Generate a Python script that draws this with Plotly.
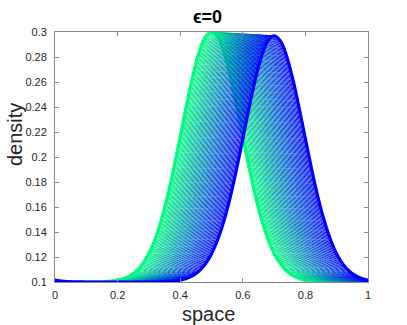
import numpy as np
import plotly.graph_objects as go

# bump profile of the first snapshot, as offset from its peak
offset = [-0.50, -0.48, -0.46, -0.44, -0.42, -0.40, -0.38, -0.36, -0.34, -0.32,
          -0.30, -0.28, -0.26, -0.24, -0.22, -0.20, -0.18, -0.16, -0.14, -0.12,
          -0.10, -0.08, -0.06, -0.04, -0.02, 0.00, 0.02, 0.04, 0.06, 0.08,
          0.10, 0.12, 0.14, 0.16, 0.18, 0.20, 0.22, 0.24, 0.26, 0.28,
          0.30, 0.32, 0.34, 0.36, 0.38, 0.40, 0.42, 0.44, 0.46, 0.48, 0.50]
shape = [0.1000, 0.1000, 0.1000, 0.1000, 0.1000, 0.1000, 0.1001, 0.1002, 0.1004, 0.1008,
         0.1015, 0.1028, 0.1051, 0.1088, 0.1145, 0.1228, 0.1345, 0.1499, 0.1690, 0.1916,
         0.2163, 0.2413, 0.2645, 0.2834, 0.2958, 0.3000, 0.2958, 0.2834, 0.2645, 0.2413,
         0.2163, 0.1916, 0.1690, 0.1499, 0.1345, 0.1228, 0.1145, 0.1088, 0.1051, 0.1028,
         0.1015, 0.1008, 0.1004, 0.1002, 0.1001, 0.1000, 0.1000, 0.1000, 0.1000, 0.1000, 0.1000]

# peak position and height of each snapshot
peak_pos = [0.500, 0.504, 0.508, 0.512, 0.516, 0.520, 0.524, 0.528, 0.532, 0.536,
            0.540, 0.544, 0.548, 0.552, 0.556, 0.560, 0.564, 0.568, 0.572, 0.576,
            0.580, 0.584, 0.588, 0.592, 0.596, 0.600, 0.604, 0.608, 0.612, 0.616,
            0.620, 0.624, 0.628, 0.632, 0.636, 0.640, 0.644, 0.648, 0.652, 0.656,
            0.660, 0.664, 0.668, 0.672, 0.676, 0.680, 0.684, 0.688, 0.692, 0.696, 0.700]
peak_height = [0.3000, 0.2999, 0.2999, 0.2998, 0.2998, 0.2997, 0.2996, 0.2996, 0.2995, 0.2995,
               0.2994, 0.2993, 0.2993, 0.2992, 0.2992, 0.2991, 0.2990, 0.2990, 0.2989, 0.2989,
               0.2988, 0.2987, 0.2987, 0.2986, 0.2986, 0.2985, 0.2984, 0.2984, 0.2983, 0.2983,
               0.2982, 0.2981, 0.2981, 0.2980, 0.2980, 0.2979, 0.2978, 0.2978, 0.2977, 0.2977,
               0.2976, 0.2975, 0.2975, 0.2974, 0.2974, 0.2973, 0.2972, 0.2972, 0.2971, 0.2971, 0.2970]

x_ticks = [0, 0.2, 0.4, 0.6, 0.8, 1]
x_labels = ["0", "0.2", "0.4", "0.6", "0.8", "1"]
y_ticks = [0.1, 0.12, 0.14, 0.16, 0.18, 0.2, 0.22, 0.24, 0.26, 0.28, 0.3]
y_labels = ["0.1", "0.12", "0.14", "0.16", "0.18", "0.2", "0.22", "0.24", "0.26", "0.28", "0.3"]

BASE = 0.1
dx = np.array(offset)
rise = np.array(shape) - BASE

fig = go.Figure()
n = len(peak_pos)
for i, (pos, h) in enumerate(zip(peak_pos, peak_height)):
    # periodic domain: wrap the bump back into [0, 1]
    x = np.mod(pos + dx, 1.0)
    y = BASE + rise * (h - BASE) / (shape[25] - BASE)
    order = np.argsort(x)
    x, y = x[order], y[order]
    x = np.concatenate([[x[-1] - 1], x, [x[0] + 1]])
    y = np.concatenate([[y[-1]], y, [y[0]]])
    t = i / (n - 1)
    color = f"rgb(0,{round(255 * (1 - t))},{round(128 + 127 * t)})"
    width = 3.2 if i in (0, n - 1) else 1
    fig.add_scatter(x=x, y=y, mode="lines", line=dict(color=color, width=width, shape="spline"),
                    showlegend=False, hoverinfo="skip")

axis = dict(showline=True, linecolor="#8a8a8a", linewidth=1, mirror="ticks", ticks="inside",
            ticklen=4, tickcolor="#8a8a8a", showgrid=False, zeroline=False,
            tickfont=dict(family="Liberation Sans, Arial", size=11, color="#262626"))
fig.update_xaxes(range=[0, 1], tickvals=x_ticks, ticktext=x_labels, ticklabelstandoff=3, **axis)
fig.update_yaxes(range=[0.1, 0.3], tickvals=y_ticks, ticktext=y_labels, ticklabelstandoff=5, **axis)

fig.update_layout(
    width=407, height=325,
    margin=dict(l=55, r=39, t=32, b=43),
    paper_bgcolor="white", plot_bgcolor="white",
    title=dict(text="<b>ϵ=0</b>", x=0.51, xanchor="center", y=0.948, yanchor="middle",
               font=dict(family="Liberation Sans, Arial", size=18, color="black")),
    annotations=[
        dict(text="density", xref="paper", yref="paper", x=-0.13, y=0.589, textangle=-90,
             showarrow=False, xanchor="center", yanchor="middle", borderpad=0,
             font=dict(family="Liberation Sans, Arial", size=20, color="#262626")),
        dict(text="space", xref="paper", yref="paper", x=0.49, y=-0.08, showarrow=False,
             xanchor="center", yanchor="top", borderpad=0,
             font=dict(family="Liberation Sans, Arial", size=20, color="#262626")),
    ],
)

# drop the default page margin so the figure sits at the window's corner
fig.write_html("out.html", config={"displayModeBar": False},
               post_script="document.body.style.margin = '0';")
